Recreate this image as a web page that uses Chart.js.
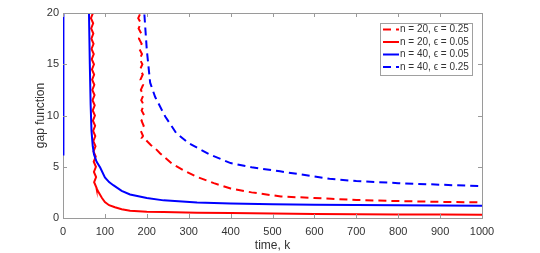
<!DOCTYPE html>
<html lang="en">
<head>
<meta charset="UTF-8">
<title>Gap function</title>
<script src="https://cdn.jsdelivr.net/npm/chart.js"></script>
<style>
    body { margin: 0; background: #FFFFFF; }
    .holder { width: 540px; height: 253px; position: relative; }
</style>
</head>
<body>
<div class="holder"><canvas id="gapChart" width="540" height="253"></canvas></div>
<script>
    // n = 20, eps = 0.25 (red dashed) - noisy start, then smooth decay
    const kRedDash = [182, 185, 179.5, 185.9, 180.4, 186.8, 181.3, 187.7, 182.2, 188.6, 183.1, 189.5, 184, 190.4, 184.9,
        191.3, 185.8, 192.2, 186.7, 193.1, 187.6, 194, 187.3, 192.5, 185.8, 191, 188,
        198, 210, 220, 232, 260, 290, 320, 360, 400, 450, 520, 600, 640, 700, 800, 900, 1000];
    const gRedDash = [30, 20, 19.5, 19, 18.5, 18, 17.5, 17, 16.5, 16, 15.5, 15, 14.5, 14, 13.5,
        13, 12.5, 12, 11.5, 11, 10.5, 10, 9.5, 9, 8.5, 8, 7.8,
        7.6, 7.1, 6.8, 6.3, 5.3, 4.6, 4.0, 3.4, 2.88, 2.5, 2.1, 1.95, 1.88, 1.76, 1.65, 1.57, 1.52];

    // n = 20, eps = 0.05 (red solid)
    const kRedSolid = [69, 71.5, 66.7, 72, 67.2, 72.4, 67.7, 72.9, 68.1, 73.4, 68.6, 73.9, 69.1, 74.3, 69.6, 74.8, 70,
        75.3, 70.5, 75.7, 71, 76.2, 71.4, 76.7, 71.9, 77.1, 72.4, 77.6, 72.8, 78.1, 73.3, 78.6, 73.8, 79, 74.3, 79.5, 80,
        85, 93, 100, 110, 124, 140, 160, 200, 240, 320, 400, 500, 600, 700, 800, 900, 1000];
    const gRedSolid = [30, 20, 19.5, 19, 18.5, 18, 17.5, 17, 16.5, 16, 15.5, 15, 14.5, 14, 13.5, 13, 12.5,
        12, 11.5, 11, 10.5, 10, 9.5, 9, 8.5, 8, 7.5, 7, 6.5, 6, 5.5, 5, 4.5, 4, 3.5, 3, 2.9,
        2.5, 1.95, 1.55, 1.25, 1.05, 0.85, 0.71, 0.62, 0.58, 0.52, 0.48, 0.43, 0.40, 0.37, 0.35, 0.33, 0.32];

    // n = 40, eps = 0.05 (blue solid)
    const kBlueSolid = [0, 1, 60, 62, 64, 66, 68, 71, 74, 80, 89, 100, 110, 120, 140, 160, 200, 240, 320,
        400, 500, 600, 700, 800, 900, 1000];
    const gBlueSolid = [6.2, 40, 40, 20, 15, 11, 8.5, 7, 6.2, 5.5, 4.9, 3.95, 3.5, 3.2, 2.65, 2.3, 1.95, 1.72, 1.52,
        1.42, 1.35, 1.3, 1.27, 1.24, 1.22, 1.2];

    // n = 40, eps = 0.25 (blue dashed)
    const kBlueDash = [193, 194, 200, 208, 220, 244, 270, 300, 350, 400, 450, 518, 600, 636, 700, 800, 900, 1000];
    const gBlueDash = [30, 20, 16.4, 13.2, 11.8, 9.9, 8.3, 7.3, 6.2, 5.36, 4.95, 4.55, 4.05, 3.83, 3.6, 3.4, 3.25, 3.1];

    const xTicks = [0, 100, 200, 300, 400, 500, 600, 700, 800, 900, 1000];
    const yTicks = [0, 5, 10, 15, 20];

    const pts = (ks, gs) => ks.map((k, i) => ({ x: k, y: gs[i] }));

    const axisGray = '#9a9a9a';
    const textGray = '#333333';
    const fontName = "'Liberation Sans', Arial, sans-serif";

    // box around the axes, inward ticks and the legend
    const matlabBox = {
        id: 'matlabBox',
        afterDatasetsDraw(chart) {
            const { ctx, chartArea: a, scales: { x, y } } = chart;
            ctx.save();
            ctx.strokeStyle = axisGray;
            ctx.lineWidth = 1;
            ctx.beginPath();
            ctx.moveTo(a.left, a.top + 0.5);
            ctx.lineTo(a.right + 0.5, a.top + 0.5);
            ctx.lineTo(a.right + 0.5, a.bottom);
            for (const v of xTicks) {
                const px = Math.round(x.getPixelForValue(v)) + 0.5;
                ctx.moveTo(px, a.bottom); ctx.lineTo(px, a.bottom - 4);
                ctx.moveTo(px, a.top); ctx.lineTo(px, a.top + 4);
            }
            for (const v of yTicks) {
                const py = Math.round(y.getPixelForValue(v)) + 0.5;
                ctx.moveTo(a.left, py); ctx.lineTo(a.left + 4, py);
                ctx.moveTo(a.right, py); ctx.lineTo(a.right - 4, py);
            }
            ctx.stroke();

            // legend
            const lx = 380, ly = 23, lw = 92, lh = 52;
            ctx.fillStyle = '#FFFFFF';
            ctx.fillRect(lx, ly, lw, lh);
            ctx.strokeStyle = '#a0a0a0';
            ctx.strokeRect(lx + 0.5, ly + 0.5, lw, lh);
            ctx.font = '10px ' + fontName;
            ctx.textBaseline = 'middle';
            ctx.textAlign = 'left';
            chart.data.datasets.forEach((ds, i) => {
                const cy = ly + 6.5 + i * 12.5;
                ctx.strokeStyle = ds.borderColor;
                ctx.lineWidth = 2;
                ctx.setLineDash(ds.borderDash || []);
                ctx.beginPath();
                ctx.moveTo(lx + 3, cy);
                ctx.lineTo(lx + 19, cy);
                ctx.stroke();
                ctx.setLineDash([]);
                ctx.fillStyle = textGray;
                ctx.fillText(ds.label, lx + 20, cy);
            });
            ctx.restore();
        }
    };

    new Chart(document.getElementById('gapChart'), {
        type: 'scatter',
        data: {
            // order: later series are painted on top, as in the original plot
            datasets: [
                { label: 'n = 20, \u03f5 = 0.25', data: pts(kRedDash, gRedDash), borderColor: '#FF0000', borderDash: [8, 5], order: 4 },
                { label: 'n = 20, \u03f5 = 0.05', data: pts(kRedSolid, gRedSolid), borderColor: '#FF0000', order: 3 },
                { label: 'n = 40, \u03f5 = 0.05', data: pts(kBlueSolid, gBlueSolid), borderColor: '#0000FF', order: 2 },
                { label: 'n = 40, \u03f5 = 0.25', data: pts(kBlueDash, gBlueDash), borderColor: '#0000FF', borderDash: [8, 5], order: 1 }
            ].map(ds => Object.assign(ds, { showLine: true, pointRadius: 0, borderWidth: 2, tension: 0, fill: false }))
        },
        options: {
            responsive: false,
            animation: false,
            layout: { padding: { left: 0, top: 13, right: 58, bottom: 0 } },
            plugins: { legend: { display: false }, tooltip: { enabled: false } },
            scales: {
                x: {
                    type: 'linear', min: 0, max: 1000,
                    afterFit: s => { s.height = 35; },
                    afterBuildTicks: s => { s.ticks = xTicks.map(v => ({ value: v })); },
                    grid: { display: false, drawTicks: false },
                    border: { display: true, color: axisGray },
                    ticks: { padding: 7, color: textGray, font: { family: fontName, size: 11 }, callback: v => String(v) },
                    title: { display: true, text: 'time, k', color: textGray, padding: { top: 0, bottom: 0 }, font: { family: fontName, size: 12 } }
                },
                y: {
                    min: 0, max: 20,
                    afterFit: s => { s.width = 63; },
                    afterBuildTicks: s => { s.ticks = yTicks.map(v => ({ value: v })); },
                    grid: { display: false, drawTicks: false },
                    border: { display: true, color: axisGray },
                    ticks: { padding: 4, color: textGray, font: { family: fontName, size: 11 }, callback: v => String(v) },
                    title: { display: true, text: 'gap function', color: textGray, padding: { top: 33, bottom: 0 }, font: { family: fontName, size: 12 } }
                }
            }
        },
        plugins: [matlabBox]
    });
</script>
</body>
</html>
